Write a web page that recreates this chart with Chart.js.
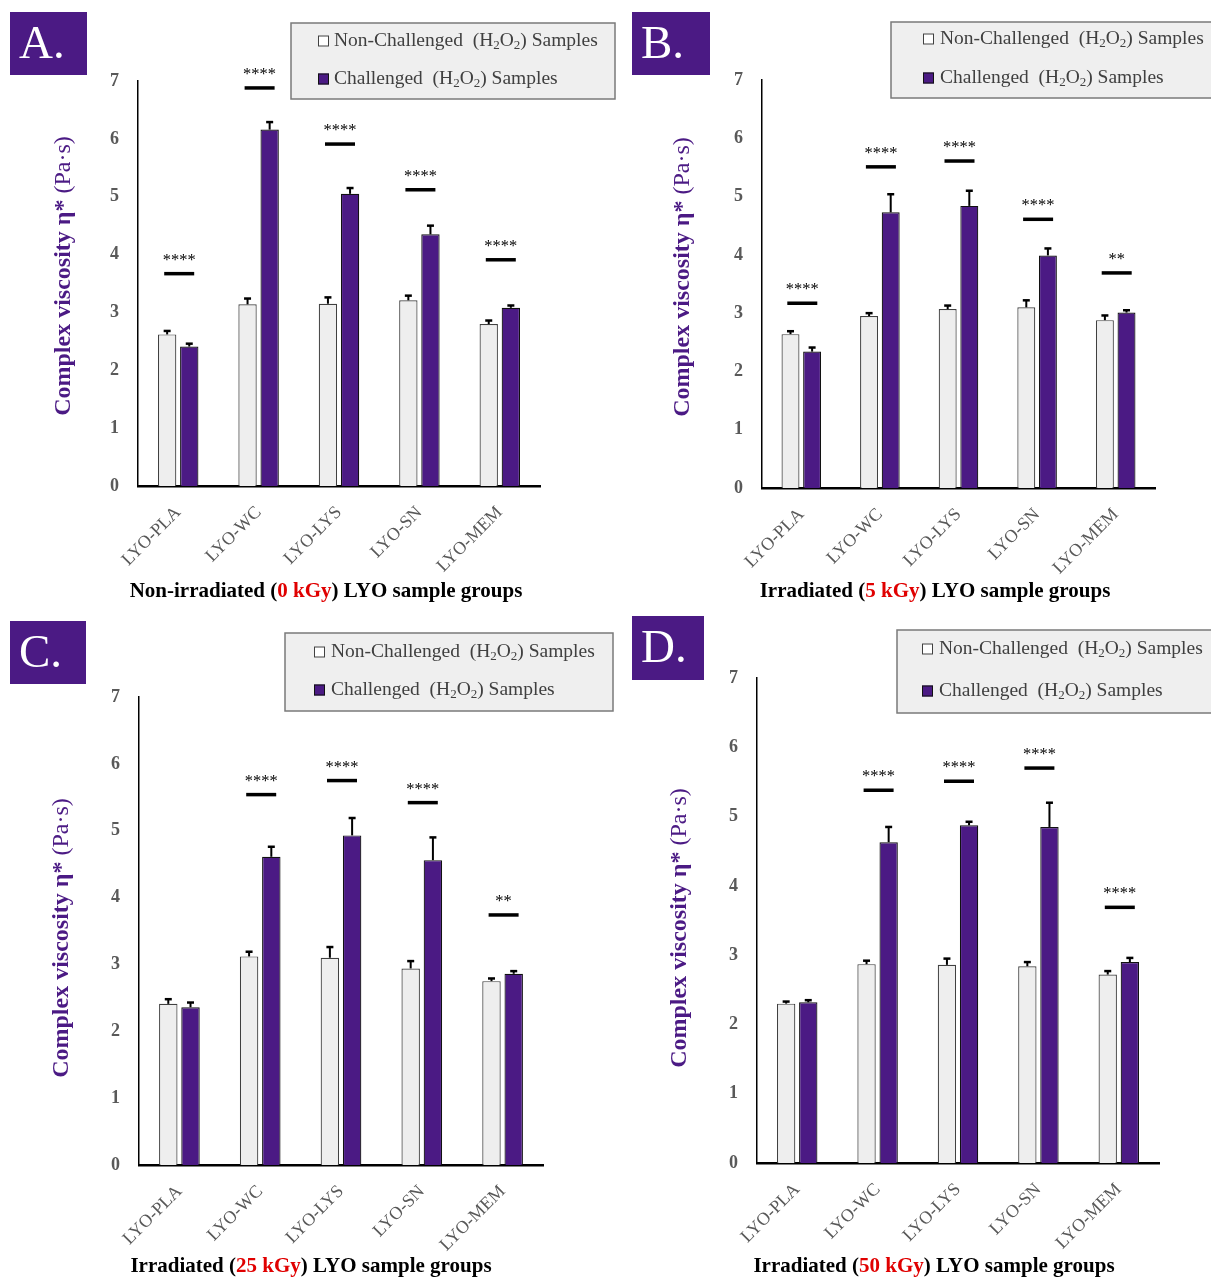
<!DOCTYPE html>
<html>
<head>
<meta charset="utf-8">
<title>Complex viscosity of LYO sample groups</title>
<script src="https://cdn.jsdelivr.net/npm/chart.js@4.4.1/dist/chart.umd.min.js"></script>
<style>
  html, body { margin: 0; padding: 0; background: #fff; overflow: hidden; }
  .panel { position: absolute; }
</style>
</head>
<body>
<div class="panel" style="left:0;top:0"><canvas id="panelA" width="620" height="610"></canvas></div>
<div class="panel" style="left:620px;top:0"><canvas id="panelB" width="591" height="610"></canvas></div>
<div class="panel" style="left:0;top:610px"><canvas id="panelC" width="620" height="669"></canvas></div>
<div class="panel" style="left:620px;top:610px"><canvas id="panelD" width="591" height="669"></canvas></div>
<script>
const groups = ['LYO-PLA', 'LYO-WC', 'LYO-LYS', 'LYO-SN', 'LYO-MEM'];

// 0 kGy
const nonChal0 = [2.62, 3.14, 3.15, 3.21, 2.80];
const nonChalErr0 = [0.06, 0.10, 0.11, 0.08, 0.06];
const chal0 = [2.41, 6.16, 5.05, 4.35, 3.08];
const chalErr0 = [0.05, 0.13, 0.10, 0.15, 0.04];
const sigY0 = [3.67, 6.88, 5.91, 5.12, 3.91];
const sigMark0 = ['****', '****', '****', '****', '****'];

// 5 kGy
const nonChal5 = [2.64, 2.95, 3.07, 3.10, 2.88];
const nonChalErr5 = [0.05, 0.05, 0.06, 0.12, 0.08];
const chal5 = [2.34, 4.73, 4.84, 3.99, 3.01];
const chalErr5 = [0.07, 0.31, 0.26, 0.12, 0.04];
const sigY5 = [3.17, 5.51, 5.61, 4.61, 3.69];
const sigMark5 = ['****', '****', '****', '****', '**'];

// 25 kGy
const nonChal25 = [2.41, 3.12, 3.10, 2.94, 2.75];
const nonChalErr25 = [0.07, 0.07, 0.16, 0.11, 0.04];
const chal25 = [2.36, 4.61, 4.93, 4.56, 2.86];
const chalErr25 = [0.07, 0.15, 0.26, 0.34, 0.04];
const sigY25 = [null, 5.54, 5.75, 5.42, 3.74];
const sigMark25 = ['', '****', '****', '****', '**'];

// 50 kGy
const nonChal50 = [2.30, 2.87, 2.86, 2.84, 2.72];
const nonChalErr50 = [0.03, 0.05, 0.09, 0.06, 0.05];
const chal50 = [2.32, 4.63, 4.875, 4.85, 2.90];
const chalErr50 = [0.03, 0.22, 0.05, 0.35, 0.06];
const sigY50 = [null, 5.38, 5.51, 5.70, 3.69];
const sigMark50 = ['', '****', '****', '****', '****'];

const SERIF = "'Liberation Serif', 'DejaVu Serif', serif";
const PURPLE = '#4b1a84';
const LIGHT = '#eeeeee';
const GREY = '#595959';

const panels = [
  { id: 'panelA', tag: 'A.', pre: 'Non-irradiated (', dose: '0 kGy',
    nonChal: nonChal0, nonChalErr: nonChalErr0, chal: chal0, chalErr: chalErr0, sigY: sigY0, sigMark: sigMark0,
    plot: { left: 138, right: 540, top: 81, bottom: 486 },
    legend: { x: 291, y: 23, w: 324, h: 76, mx: 27, tx: 43, r1: 18, r2: 56 },
    tagBox: { x: 10, y: 12, w: 77, h: 63 },
    yTitle: { x: 64, y: 276 }, xTitle: { x: 326, y: 592 } },
  { id: 'panelB', tag: 'B.', pre: 'Irradiated (', dose: '5 kGy',
    nonChal: nonChal5, nonChalErr: nonChalErr5, chal: chal5, chalErr: chalErr5, sigY: sigY5, sigMark: sigMark5,
    plot: { left: 142, right: 535, top: 80, bottom: 488 },
    legend: { x: 271, y: 22, w: 340, h: 76, mx: 32, tx: 49, r1: 17, r2: 56 },
    tagBox: { x: 12, y: 12, w: 78, h: 63 },
    yTitle: { x: 63, y: 277 }, xTitle: { x: 315, y: 592 } },
  { id: 'panelC', tag: 'C.', pre: 'Irradiated (', dose: '25 kGy',
    nonChal: nonChal25, nonChalErr: nonChalErr25, chal: chal25, chalErr: chalErr25, sigY: sigY25, sigMark: sigMark25,
    plot: { left: 139, right: 543, top: 87, bottom: 555 },
    legend: { x: 285, y: 23, w: 328, h: 78, mx: 29, tx: 46, r1: 19, r2: 57 },
    tagBox: { x: 10, y: 11, w: 76, h: 63 },
    yTitle: { x: 62, y: 328 }, xTitle: { x: 311, y: 657 } },
  { id: 'panelD', tag: 'D.', pre: 'Irradiated (', dose: '50 kGy',
    nonChal: nonChal50, nonChalErr: nonChalErr50, chal: chal50, chalErr: chalErr50, sigY: sigY50, sigMark: sigMark50,
    plot: { left: 137, right: 539, top: 68, bottom: 553 },
    legend: { x: 277, y: 20, w: 340, h: 83, mx: 25, tx: 42, r1: 19, r2: 61 },
    tagBox: { x: 12, y: 6, w: 72, h: 64 },
    yTitle: { x: 60, y: 318 }, xTitle: { x: 314, y: 657 } }
];

// draws a row of differently styled text pieces, optionally centred on x
function drawRuns(ctx, runs, x, y, center) {
  let total = 0;
  runs.forEach(r => { ctx.font = r.font; total += ctx.measureText(r.text).width; });
  let cx = center ? x - total / 2 : x;
  runs.forEach(r => {
    ctx.font = r.font;
    ctx.fillStyle = r.color;
    ctx.fillText(r.text, cx, y + (r.dy || 0));
    cx += ctx.measureText(r.text).width;
  });
}

function h2o2Runs(prefix) {
  const f = '19.5px ' + SERIF, s = '13px ' + SERIF, c = '#404040';
  return [
    { text: prefix + '(H', font: f, color: c },
    { text: '2', font: s, color: c, dy: 5 },
    { text: 'O', font: f, color: c },
    { text: '2', font: s, color: c, dy: 5 },
    { text: ') Samples', font: f, color: c }
  ];
}

const errorBars = {
  id: 'errorBars',
  afterDatasetsDraw(chart) {
    const { ctx, scales: { y } } = chart;
    ctx.save();
    ctx.strokeStyle = '#000';
    chart.data.datasets.forEach((ds, i) => {
      chart.getDatasetMeta(i).data.forEach((bar, j) => {
        const top = y.getPixelForValue(ds.data[j] + ds.errors[j]);
        ctx.lineWidth = 2;
        ctx.beginPath();
        ctx.moveTo(bar.x, bar.y);
        ctx.lineTo(bar.x, top);
        ctx.stroke();
        ctx.lineWidth = 2.5;
        ctx.beginPath();
        ctx.moveTo(bar.x - 3.5, top);
        ctx.lineTo(bar.x + 3.5, top);
        ctx.stroke();
      });
    });
    ctx.restore();
  }
};

function buildPanel(p) {
  const canvas = document.getElementById(p.id);
  const W = canvas.width, H = canvas.height;

  // significance bar with asterisks over each group
  const sigBars = {
    id: 'sigBars',
    afterDatasetsDraw(chart) {
      const { ctx, scales: { x, y } } = chart;
      ctx.save();
      p.sigY.forEach((v, i) => {
        if (v == null) return;
        const cx = x.getPixelForValue(i) + 1;
        const cy = y.getPixelForValue(v);
        ctx.strokeStyle = '#000';
        ctx.lineWidth = 3.5;
        ctx.beginPath();
        ctx.moveTo(cx - 15, cy);
        ctx.lineTo(cx + 15, cy);
        ctx.stroke();
        ctx.fillStyle = '#000';
        ctx.font = '16.5px ' + SERIF;
        ctx.textAlign = 'center';
        ctx.textBaseline = 'alphabetic';
        ctx.fillText(p.sigMark[i], cx, cy - 9);
      });
      ctx.restore();
    }
  };

  // panel tag, legend box and the two axis titles
  const decor = {
    id: 'decor',
    afterDraw(chart) {
      const ctx = chart.ctx;
      ctx.save();
      const t = p.tagBox;
      ctx.fillStyle = PURPLE;
      ctx.fillRect(t.x, t.y, t.w, t.h);
      ctx.fillStyle = '#fff';
      ctx.font = '47px ' + SERIF;
      ctx.textAlign = 'left';
      ctx.textBaseline = 'middle';
      ctx.fillText(p.tag, t.x + 9, t.y + t.h / 2 + 2);

      const L = p.legend;
      ctx.fillStyle = '#efefef';
      ctx.fillRect(L.x, L.y, L.w, L.h);
      ctx.strokeStyle = '#7a7a7a';
      ctx.lineWidth = 1.5;
      ctx.strokeRect(L.x, L.y, L.w, L.h);
      ctx.textAlign = 'left';
      ctx.textBaseline = 'middle';
      ctx.lineWidth = 1;
      ctx.fillStyle = '#ffffff';
      ctx.strokeStyle = '#404040';
      ctx.fillRect(L.x + L.mx, L.y + L.r1 - 5.5, 11, 11);
      ctx.strokeRect(L.x + L.mx + 0.5, L.y + L.r1 - 5, 10, 10);
      ctx.fillStyle = PURPLE;
      ctx.strokeStyle = '#111';
      ctx.fillRect(L.x + L.mx, L.y + L.r2 - 5.5, 11, 11);
      ctx.strokeRect(L.x + L.mx + 0.5, L.y + L.r2 - 5, 10, 10);
      drawRuns(ctx, h2o2Runs('Non-Challenged  '), L.x + L.tx, L.y + L.r1, false);
      drawRuns(ctx, h2o2Runs('Challenged  '), L.x + L.tx, L.y + L.r2, false);

      ctx.save();
      ctx.translate(p.yTitle.x, p.yTitle.y);
      ctx.rotate(-Math.PI / 2);
      drawRuns(ctx, [
        { text: 'Complex viscosity η* ', font: 'bold 24px ' + SERIF, color: PURPLE },
        { text: '(Pa·s)', font: '24px ' + SERIF, color: PURPLE }
      ], 0, 0, true);
      ctx.restore();

      const bf = 'bold 21px ' + SERIF;
      drawRuns(ctx, [
        { text: p.pre, font: bf, color: '#000' },
        { text: p.dose, font: bf, color: '#e00000' },
        { text: ') LYO sample groups', font: bf, color: '#000' }
      ], p.xTitle.x, p.xTitle.y, true);
      ctx.restore();
    }
  };

  return new Chart(canvas, {
    type: 'bar',
    data: {
      labels: groups,
      datasets: [
        { label: 'Non-Challenged (H₂O₂) Samples', data: p.nonChal, errors: p.nonChalErr,
          backgroundColor: LIGHT, borderColor: '#404040', borderWidth: 1.2,
          categoryPercentage: 0.55, barPercentage: 0.83 },
        { label: 'Challenged (H₂O₂) Samples', data: p.chal, errors: p.chalErr,
          backgroundColor: PURPLE, borderColor: '#111', borderWidth: 1.2,
          categoryPercentage: 0.55, barPercentage: 0.83 }
      ]
    },
    options: {
      responsive: false,
      animation: false,
      devicePixelRatio: 1,
      layout: { padding: { left: 0, right: W - p.plot.right, top: p.plot.top, bottom: 0 } },
      plugins: { legend: { display: false }, tooltip: { enabled: false } },
      scales: {
        x: {
          afterFit: s => { s.height = H - p.plot.bottom; },
          grid: { display: false, drawTicks: false },
          border: { display: true, color: '#000', width: 2.5 },
          ticks: { color: GREY, font: { family: SERIF, size: 18 }, maxRotation: 45, minRotation: 45,
                   autoSkip: false, padding: 16 }
        },
        y: {
          min: 0, max: 7,
          afterFit: s => { s.width = p.plot.left; },
          grid: { display: false, drawTicks: false },
          border: { display: true, color: '#000', width: 1.5 },
          ticks: { stepSize: 1, color: GREY, font: { family: SERIF, size: 18, weight: 'bold' }, padding: 19 }
        }
      }
    },
    plugins: [errorBars, sigBars, decor]
  });
}

panels.forEach(buildPanel);
</script>
</body>
</html>
